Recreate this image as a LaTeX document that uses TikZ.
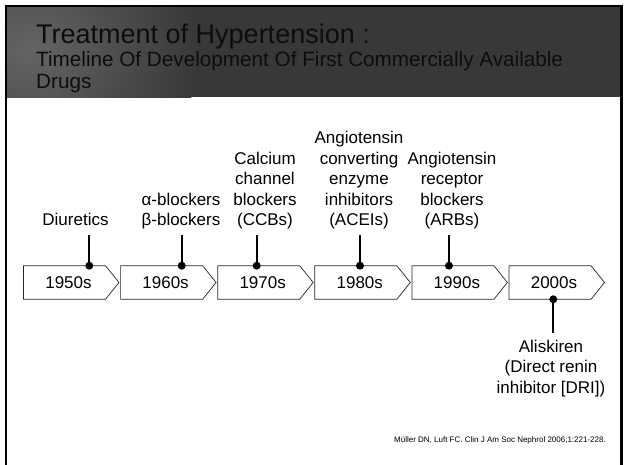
\documentclass[tikz,border=0pt]{standalone}
\usepackage{fontspec}
\setmainfont{Liberation Sans}
\definecolor{hdr}{HTML}{383838}
\definecolor{hdrlight}{HTML}{646464}
\begin{document}
\begin{tikzpicture}[x=1pt,y=-1pt,
  chev/.style={draw=black!85, line width=0.7pt, fill=white},
  yr/.style={font=\fontsize{17}{20.5}\selectfont, inner sep=0pt},
  lab/.style={font=\fontsize{17}{20.5}\selectfont, align=center, inner sep=0pt, anchor=base},
  dotn/.style={circle, fill=black, minimum size=8pt, inner sep=0pt},
  stem/.style={line width=1.8pt}]
\useasboundingbox (0,0) rectangle (625,465);
\fill[white] (0,0) rectangle (625,465);
% header band
\fill[hdr] (7,7) rectangle (620,97.5);
\begin{scope}
  \clip (7,7) rectangle (620,97.5);
  \shade[inner color=hdrlight, outer color=hdr] (30,50) ellipse (170 and 150);
\end{scope}
\draw[line width=2.5pt] (6.2,470) -- (6.2,5.8) -- (621.5,5.8) -- (621.5,470);
% titles
\node[anchor=base west, inner sep=0pt, text=black!95, font=\fontsize{27}{32}\selectfont] (title) at (36,43.3) {Treatment of Hypertension :};
\node[anchor=base west, inner sep=0pt, text=black!95, font=\fontsize{20.7}{21.6}\selectfont] (sub1) at (36,66.7) {Timeline Of Development Of First Commercially Available};
\node[anchor=base west, inner sep=0pt, text=black!95, font=\fontsize{20.7}{21.6}\selectfont] (sub2) at (36,88.3) {Drugs};
% chevrons
\foreach \i/\yy in {0/1950s,1/1960s,2/1970s,3/1980s,4/1990s,5/2000s}{
  \pgfmathsetmacro{\L}{23.5+97.1*\i}
  \draw[chev] (\L,265.7) -- ({\L+82},265.7) -- ({\L+95.5},282.5) -- ({\L+82},299.3) -- (\L,299.3) -- cycle;
  \node[yr] (y\i) at ({\L+45},282.7) {\yy};
}
% dots
\node[dotn] (d0) at (89.3,265.7) {};
\node[dotn] (d1) at (181.7,265.7) {};
\node[dotn] (d2) at (256.7,265.7) {};
\node[dotn] (d3) at (360,265.7) {};
\node[dotn] (d4) at (449,265.7) {};
\node[dotn] (d5) at (553.3,299.3) {};
% stem ends
\coordinate (t0) at (89.3,235);
\coordinate (t1) at (181.7,235);
\coordinate (t2) at (256.7,235);
\coordinate (t3) at (360,235);
\coordinate (t4) at (449,235);
\coordinate (t5) at (553.3,333);
\foreach \k in {0,...,5}{\draw[stem] (t\k) -- (d\k.center);}
% labels (base = baseline of the last line)
\node[lab] (l0) at (75.5,226) {Diuretics};
\node[lab] (l1) at (181,226) {α-blockers\\β-blockers};
\node[lab] (l2) at (265,226) {Calcium\\channel\\blockers\\(CCBs)};
\node[lab] (l3) at (359,226) {Angiotensin\\converting\\enzyme\\inhibitors\\(ACEIs)};
\node[lab] (l4) at (452,226) {Angiotensin\\receptor\\blockers\\(ARBs)};
\node[lab] (l5) at (551,393.3) {Aliskiren\\(Direct renin\\inhibitor [DRI])};
% citation
\node[anchor=base east, inner sep=0pt, font=\fontsize{8}{9.6}\selectfont] (cite) at (606,443) {Müller DN, Luft FC. Clin J Am Soc Nephrol 2006;1:221-228.};
\end{tikzpicture}
\end{document}
